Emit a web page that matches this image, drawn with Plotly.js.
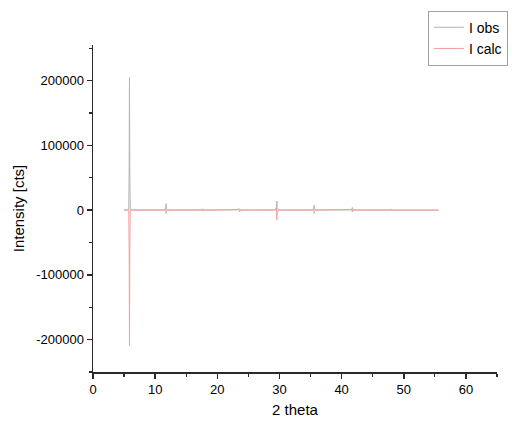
<!DOCTYPE html>
<html>
<head>
<meta charset="utf-8">
<script src="https://cdn.plot.ly/plotly-3.0.1.min.js"></script>
<style>html,body{margin:0;padding:0;background:#fff;}#chart{width:515px;height:422px;}</style>
</head>
<body>
<div id="chart"></div>
<script>
// 2 theta positions and intensities
const xObs = [5.0, 5.4, 5.75, 5.82, 5.87, 5.92, 6.0, 6.4, 7.5, 9.0, 10.5, 11.6, 11.7, 11.76, 11.82, 11.95, 13.0, 14.5, 16.0, 17.5, 17.6, 17.7, 19.0, 20.5, 22.0, 23.4, 23.5, 23.6, 23.7, 25.0, 27.0, 29.4, 29.52, 29.58, 29.64, 29.8, 31.5, 33.5, 35.4, 35.52, 35.58, 35.64, 35.8, 37.5, 39.5, 41.55, 41.65, 41.72, 41.8, 43.5, 45.5, 47.8, 47.95, 48.05, 48.2, 50.0, 52.0, 54.0, 55.6];
const yObs = [300, 500, 800, 60000, 205000, 60000, 1500, 700, 400, 300, 300, 400, 3500, 10000, 3000, 500, 300, 250, 250, 500, 2000, 400, 250, 200, 200, 400, 2500, 1000, 300, 200, 200, 500, 5000, 14000, 4000, 400, 200, 200, 400, 3000, 7500, 2000, 300, 200, 150, 300, 2500, 4000, 300, 150, 150, 200, 1500, 500, 150, 100, 100, 100, 100];

const xCalc = [5.0, 5.4, 5.75, 5.82, 5.87, 5.92, 6.0, 6.4, 7.5, 9.0, 10.5, 11.6, 11.7, 11.76, 11.82, 11.95, 13.0, 14.5, 16.0, 17.5, 17.6, 17.7, 19.0, 20.5, 22.0, 23.4, 23.5, 23.6, 23.7, 25.0, 27.0, 29.4, 29.52, 29.58, 29.64, 29.8, 31.5, 33.5, 35.4, 35.52, 35.58, 35.64, 35.8, 37.5, 39.5, 41.55, 41.65, 41.72, 41.8, 43.5, 45.5, 47.8, 47.95, 48.05, 48.2, 50.0, 52.0, 54.0, 55.6];
const yCalc = [0, 0, 0, -60000, -210000, -60000, 0, 0, 0, 0, 0, 0, 1500, -5000, -2000, 0, 0, 0, 0, 0, -1500, 0, 0, 0, 0, 0, 1000, -2500, 0, 0, 0, 0, 4000, -15000, -4000, 0, 0, 0, 0, 1500, -5000, -1500, 0, 0, 0, 0, 1000, -3000, 0, 0, 0, 0, -1000, 0, 0, 0, 0, 0, 0];

const xTicks = [0, 10, 20, 30, 40, 50, 60];
const yTicks = [-200000, -100000, 0, 100000, 200000];

const traces = [
  {x: xObs, y: yObs, name: 'I obs', type: 'scatter', mode: 'lines',
   line: {color: '#b4b4b4', width: 1}},
  {x: xCalc, y: yCalc, name: 'I calc', type: 'scatter', mode: 'lines',
   line: {color: '#f2a0a0', width: 1}}
];

const layout = {
  width: 515, height: 422,
  margin: {l: 93, r: 18, t: 45, b: 50, autoexpand: false},
  paper_bgcolor: '#fff', plot_bgcolor: '#fff',
  font: {family: 'Liberation Sans, Arial, sans-serif', size: 13, color: '#000'},
  showlegend: true,
  legend: {x: 0.829, y: 1.105, xanchor: 'left', yanchor: 'top',
    bordercolor: '#a0a0a0', borderwidth: 1, bgcolor: '#fff',
    font: {size: 14}, tracegroupgap: 0, itemwidth: 30},
  xaxis: {range: [0, 65], tickvals: xTicks, ticktext: xTicks.map(String),
    showgrid: false, zeroline: false, showline: true, linecolor: '#2a2a2a', linewidth: 1.5,
    ticks: 'outside', ticklen: 5, tickwidth: 1.5, tickcolor: '#2a2a2a',
    minor: {ticks: 'outside', ticklen: 3, tickwidth: 1.2, tickcolor: '#2a2a2a', dtick: 5, showgrid: false},
    title: {text: '2 theta', font: {size: 15}, standoff: 8},
    tickfont: {size: 13}},
  yaxis: {range: [-250000, 255000], tickvals: yTicks, ticktext: yTicks.map(String),
    showgrid: false, zeroline: false, showline: true, linecolor: '#2a2a2a', linewidth: 1.5,
    ticks: 'outside', ticklen: 5, tickwidth: 1.5, tickcolor: '#2a2a2a',
    minor: {ticks: 'outside', ticklen: 3, tickwidth: 1.2, tickcolor: '#2a2a2a', dtick: 50000, showgrid: false},
    title: {text: 'Intensity [cts]', font: {size: 15}, standoff: 8},
    tickfont: {size: 13}}
};

Plotly.newPlot('chart', traces, layout, {displayModeBar: false, staticPlot: true});
</script>
</body>
</html>
